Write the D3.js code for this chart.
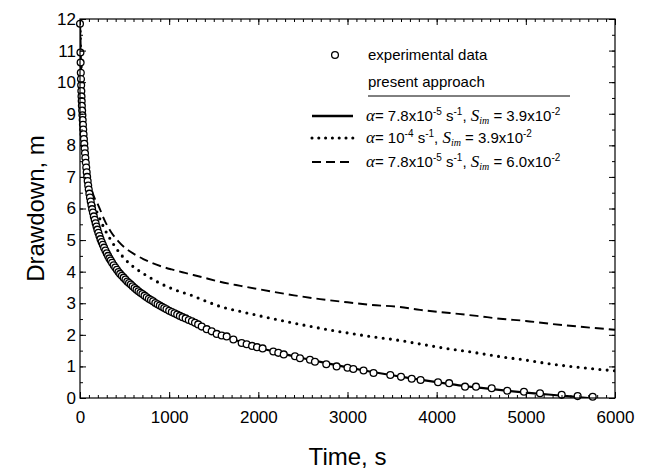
<!DOCTYPE html>
<html>
<head>
<meta charset="utf-8">
<script src="https://cdn.jsdelivr.net/npm/d3@7"></script>
<style>
  body { margin: 0; background: #fff; }
  text { font-family: Arial, "Liberation Sans", sans-serif; fill: #000; }
</style>
</head>
<body>
<svg width="645" height="471"></svg>
<script>
// experimental drawdown readings
const expTime = [0,5,7,9,11,13,15,17,19,21,24,27,30,33,36,40,44,48,52,56,60,65,70,75,80,86,92,98,105,112,120,128,136,145,155,165,175,185,195,206,218,230,243,256,270,285,300,315,330,345,360,378,396,414,432,450,470,490,510,530,550,570,590,612,634,656,678,700,724,748,772,796,820,845,870,895,920,945,970,1000,1030,1060,1090,1120,1150,1185,1220,1255,1290,1325,
  1365,1421,1477,1533,1589,1645,1720,1813,1869,1930,1985,2048,2168,2224,2285,2411,2467,2579,2635,2762,2878,3000,3065,3180,3292,3480,3600,3720,3820,4015,4140,4318,4441,4617,4792,4979,5159,5402,5581,5750];
const expDrawdown = [11.85,10.94,10.62,10.3,10.1,9.9,9.72,9.55,9.4,9.25,9.1,8.95,8.8,8.65,8.5,8.35,8.2,8.05,7.9,7.75,7.6,7.45,7.3,7.15,7.0,6.87,6.73,6.6,6.47,6.35,6.22,6.1,5.98,5.87,5.75,5.64,5.53,5.43,5.33,5.23,5.13,5.03,4.94,4.85,4.76,4.67,4.58,4.5,4.42,4.35,4.28,4.2,4.13,4.06,3.99,3.93,3.87,3.81,3.75,3.69,3.64,3.59,3.54,3.48,3.43,3.38,3.33,3.29,3.24,3.19,3.14,3.1,3.06,3.01,2.97,2.93,2.89,2.85,2.81,2.76,2.72,2.68,2.64,2.6,2.56,2.52,2.47,2.43,2.38,2.33,
  2.26,2.18,2.11,2.03,1.98,1.95,1.85,1.74,1.70,1.65,1.61,1.57,1.47,1.43,1.38,1.32,1.26,1.21,1.15,1.07,1.0,0.96,0.92,0.87,0.79,0.73,0.67,0.61,0.57,0.5,0.47,0.36,0.36,0.31,0.23,0.2,0.15,0.1,0.06,0.04];

// present approach, alpha = 7.8e-5, Sim = 3.9e-2
const fitTime = [0,5,10,20,30,45,60,80,100,130,160,200,250,300,360,430,500,580,670,770,880,1000,1150,1300,1450,1600,1800,2000,2250,2500,2750,3000,3250,3500,3750,4000,4250,4500,4750,5000,5250,5500,5700];
const fitDrawdown = [11.85,10.9,10.25,9.4,8.75,7.95,7.45,6.9,6.5,6.15,5.85,5.4,4.97,4.62,4.3,4.02,3.8,3.58,3.36,3.14,2.94,2.75,2.53,2.34,2.17,1.98,1.78,1.6,1.42,1.26,1.11,0.97,0.84,0.72,0.61,0.5,0.4,0.32,0.24,0.17,0.11,0.05,0.0];

// alpha = 1e-4, Sim = 3.9e-2
const alphaTime = [0,10,20,40,60,80,100,130,160,200,250,300,355,411,475,561,635,722,804,900,1000,1100,1250,1400,1570,1800,2131,2400,2692,3000,3252,3589,3813,4149,4400,4710,5000,5271,5600,6000];
const alphaDrawdown = [11.85,10.35,9.5,8.45,7.75,7.2,6.8,6.4,6.1,5.82,5.5,5.22,4.96,4.72,4.49,4.24,4.08,3.92,3.78,3.63,3.5,3.39,3.25,3.08,2.9,2.74,2.53,2.37,2.21,2.06,1.95,1.82,1.71,1.55,1.45,1.31,1.2,1.08,0.97,0.86];

// alpha = 7.8e-5, Sim = 6.0e-2
const simTime = [0,10,20,40,60,80,100,130,160,205,280,350,430,520,617,710,804,920,1028,1178,1350,1570,1800,2131,2400,2692,3000,3252,3589,3813,4149,4450,4710,5000,5271,5600,6000];
const simDrawdown = [11.85,10.4,9.6,8.55,7.9,7.35,6.95,6.6,6.35,6.1,5.6,5.25,4.96,4.72,4.54,4.4,4.28,4.16,4.07,3.96,3.84,3.68,3.55,3.38,3.25,3.13,3.03,2.95,2.88,2.79,2.69,2.6,2.51,2.44,2.35,2.26,2.16];

const timeTicks = [0,1000,2000,3000,4000,5000,6000];
const drawdownTicks = [0,1,2,3,4,5,6,7,8,9,10,11,12];

const svg = d3.select('svg');
const margin = {left:80, top:19, right:30, bottom:73};
const width = +svg.attr('width');
const height = +svg.attr('height');
const innerWidth = width - margin.left - margin.right;
const innerHeight = height - margin.top - margin.bottom;

const xScale = d3.scaleLinear().domain([0,6000]).range([0,innerWidth]);
const yScale = d3.scaleLinear().domain([0,12]).range([innerHeight,0]);

const g = svg.append('g').attr('transform', `translate(${margin.left},${margin.top})`);

g.append('clipPath').attr('id','plotclip')
  .append('rect').attr('width',innerWidth).attr('height',innerHeight);

const zip = (ts, ds) => ts.map((t,i) => ({t:t, d:ds[i]}));
const line = d3.line().x(p => xScale(p.t)).y(p => yScale(p.d)).curve(d3.curveMonotoneX);

const curves = g.append('g').attr('clip-path','url(#plotclip)');
curves.append('path').datum(zip(simTime, simDrawdown))
  .attr('d', line).attr('fill','none').attr('stroke','#000')
  .attr('stroke-width',1.9).attr('stroke-dasharray','9 5');
curves.append('path').datum(zip(alphaTime, alphaDrawdown))
  .attr('d', line).attr('fill','none').attr('stroke','#000')
  .attr('stroke-width',3.1).attr('stroke-linecap','round').attr('stroke-dasharray','0 7.3');
curves.append('path').datum(zip(fitTime, fitDrawdown))
  .attr('d', line).attr('fill','none').attr('stroke','#000').attr('stroke-width',2.2);

g.append('g').selectAll('circle').data(zip(expTime, expDrawdown))
  .enter().append('circle')
    .attr('cx', p => xScale(p.t))
    .attr('cy', p => yScale(p.d))
    .attr('r', 3.4)
    .attr('fill','#fff').attr('stroke','#000').attr('stroke-width',1.3);

// axes, ticks pointing inward on all four sides
const minorX = d3.range(0,6001,100);
const minorY = d3.range(0,12.01,0.5);
const tickStyle = sel => {
  sel.select('.domain').remove();
  sel.selectAll('line').attr('stroke','#000');
  sel.selectAll('text').filter(function(){ return !this.textContent; }).remove();
};

const xAxis = g.append('g').attr('transform',`translate(0,${innerHeight})`)
  .call(d3.axisBottom(xScale).tickValues(timeTicks).tickSize(-6).tickPadding(13).tickFormat(d3.format('d')));
xAxis.call(tickStyle);
xAxis.selectAll('text').attr('font-size',17).attr('font-family','Arial, Liberation Sans, sans-serif');
g.append('g').attr('transform',`translate(0,${innerHeight})`)
  .call(d3.axisBottom(xScale).tickValues(minorX).tickSize(-3).tickFormat('')).call(tickStyle);
g.append('g').call(d3.axisTop(xScale).tickValues(timeTicks).tickSize(-6).tickFormat('')).call(tickStyle);
g.append('g').call(d3.axisTop(xScale).tickValues(minorX).tickSize(-3).tickFormat('')).call(tickStyle);

const yAxis = g.append('g')
  .call(d3.axisLeft(yScale).tickValues(drawdownTicks).tickSize(-6).tickPadding(4).tickFormat(d3.format('d')));
yAxis.call(tickStyle);
yAxis.selectAll('text').attr('font-size',17).attr('font-family','Arial, Liberation Sans, sans-serif');
g.append('g').call(d3.axisLeft(yScale).tickValues(minorY).tickSize(-3).tickFormat('')).call(tickStyle);
g.append('g').attr('transform',`translate(${innerWidth},0)`)
  .call(d3.axisRight(yScale).tickValues(drawdownTicks).tickSize(-6).tickFormat('')).call(tickStyle);
g.append('g').attr('transform',`translate(${innerWidth},0)`)
  .call(d3.axisRight(yScale).tickValues(minorY).tickSize(-3).tickFormat('')).call(tickStyle);

g.append('rect').attr('width',innerWidth).attr('height',innerHeight)
  .attr('fill','none').attr('stroke','#000').attr('stroke-width',1.2);

// axis titles
svg.append('text').attr('x', margin.left + innerWidth/2).attr('y', 465)
  .attr('text-anchor','middle').attr('font-size',24).text('Time, s');
svg.append('text').attr('transform',`translate(44,${margin.top + innerHeight/2}) rotate(-90)`)
  .attr('text-anchor','middle').attr('font-size',24).text('Drawdown, m');

// legend
const legend = svg.append('g');
legend.append('circle').attr('cx',335).attr('cy',55).attr('r',3.4)
  .attr('fill','#fff').attr('stroke','#000').attr('stroke-width',1.3);
legend.append('text').attr('x',368).attr('y',60).attr('font-size',15).text('experimental data');
legend.append('text').attr('x',368).attr('y',87).attr('font-size',15).text('present approach');
legend.append('line').attr('x1',368).attr('x2',570).attr('y1',96).attr('y2',96)
  .attr('stroke','#000').attr('stroke-width',1);

const legendRows = [
  {y:116, dash:null, width:2.6, cap:'butt', alpha:['7.8x10','-5'], sim:'3.9x10'},
  {y:138, dash:'0 6.8', width:3.1, cap:'round', alpha:['10','-4'], sim:'3.9x10'},
  {y:162, dash:'9 5', width:1.9, cap:'butt', alpha:['7.8x10','-5'], sim:'6.0x10'}
];
const serif = 'Times New Roman, Liberation Serif, serif';
legendRows.forEach(r => {
  legend.append('line').attr('x1',312).attr('x2',353).attr('y1',r.y).attr('y2',r.y)
    .attr('stroke','#000').attr('stroke-width',r.width).attr('stroke-linecap',r.cap)
    .attr('stroke-dasharray', r.dash);
  const t = legend.append('text').attr('x',366).attr('y',r.y + 5).attr('font-size',15);
  t.append('tspan').attr('font-family',serif).attr('font-style','italic').attr('font-size',17).text('α');
  t.append('tspan').text('= ' + r.alpha[0]);
  t.append('tspan').attr('font-size',10).attr('dy',-6).text(r.alpha[1]);
  t.append('tspan').attr('dy',6).text(' s');
  t.append('tspan').attr('font-size',10).attr('dy',-6).text('-1');
  t.append('tspan').attr('dy',6).text(', ');
  t.append('tspan').attr('font-family',serif).attr('font-style','italic').attr('font-size',17).text('S');
  t.append('tspan').attr('font-family',serif).attr('font-style','italic').attr('font-size',10).attr('dy',3).text('im');
  t.append('tspan').attr('dy',-3).text(' = ' + r.sim);
  t.append('tspan').attr('font-size',10).attr('dy',-6).text('-2');
});
</script>
</body>
</html>
